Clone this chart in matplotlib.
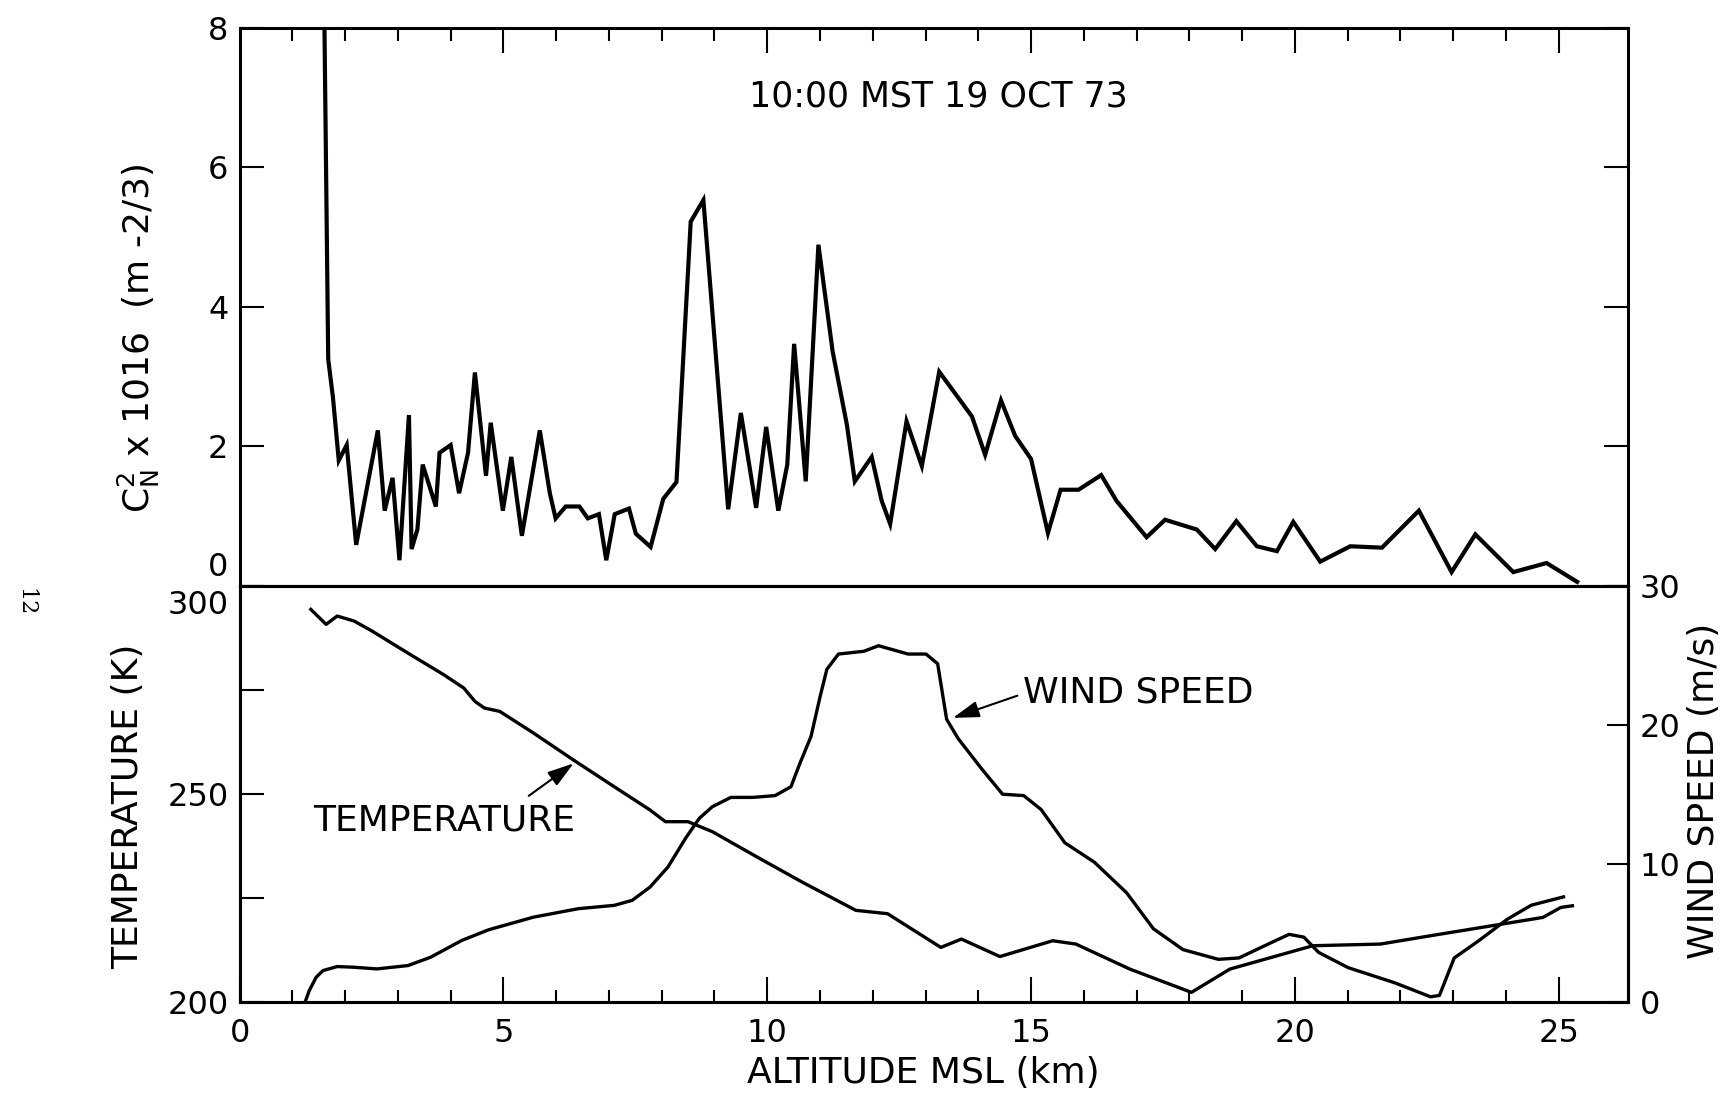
#Two-panel profile: Cn2 on top, temperature and wind speed below

import matplotlib as mpl
mpl.use('Agg')
import matplotlib.pyplot as plt

plt.rcParams['font.family'] = 'DejaVu Sans'

#Cn2 x 1e16 versus altitude (km)
alt_cn2 = [1.60, 1.68, 1.77, 1.88, 2.03, 2.21, 2.62, 2.75, 2.90, 3.03,
           3.21, 3.26, 3.37, 3.47, 3.72, 3.79, 4.00, 4.16, 4.33, 4.46,
           4.67, 4.76, 4.99, 5.15, 5.35, 5.69, 5.88, 5.99, 6.18, 6.44,
           6.60, 6.81, 6.95, 7.11, 7.38, 7.51, 7.79, 8.03, 8.28, 8.55,
           8.79, 9.26, 9.50, 9.79, 9.98, 10.21, 10.38, 10.51, 10.73, 10.97,
           11.24, 11.51, 11.66, 11.98, 12.17, 12.33, 12.64, 12.93, 13.26, 13.88,
           14.13, 14.43, 14.70, 15.00, 15.32, 15.56, 15.90, 16.33, 16.62, 17.19,
           17.54, 18.14, 18.49, 18.89, 19.28, 19.66, 19.97, 20.48, 21.05, 21.65,
           22.35, 22.97, 23.42, 24.14, 24.77, 25.35]
cn2 = [8.6, 3.25, 2.70, 1.80, 2.02, 0.59, 2.23, 1.08, 1.55, 0.37,
       2.45, 0.53, 0.81, 1.74, 1.14, 1.91, 2.02, 1.33, 1.91, 3.06,
       1.58, 2.34, 1.08, 1.85, 0.72, 2.23, 1.33, 0.97, 1.14, 1.14,
       0.97, 1.03, 0.37, 1.03, 1.11, 0.75, 0.56, 1.25, 1.49, 5.22,
       5.53, 1.10, 2.48, 1.12, 2.28, 1.08, 1.74, 3.47, 1.50, 4.89,
       3.36, 2.31, 1.50, 1.85, 1.22, 0.89, 2.36, 1.72, 3.07, 2.43,
       1.88, 2.66, 2.15, 1.82, 0.76, 1.38, 1.38, 1.59, 1.22, 0.70,
       0.95, 0.81, 0.53, 0.93, 0.57, 0.50, 0.92, 0.35, 0.57, 0.55,
       1.08, 0.20, 0.74, 0.20, 0.33, 0.06]

#Temperature (K) versus altitude (km)
alt_temp = [1.35, 1.64, 1.85, 2.17, 2.51, 3.19, 3.87, 4.25, 4.46, 4.64,
            4.93, 5.57, 6.33, 7.10, 7.78, 8.07, 8.50, 8.96, 9.81, 10.66,
            11.68, 12.28, 13.29, 13.68, 14.41, 15.41, 15.85, 16.87, 18.04, 18.77,
            20.34, 21.62, 22.57, 24.70, 25.04, 25.26]
temp = [294.4, 290.8, 292.8, 291.6, 289.2, 283.9, 278.7, 275.5, 272.3, 270.7,
        269.9, 264.7, 258.2, 251.8, 246.2, 243.4, 243.4, 241.0, 234.9, 228.9,
        222.1, 221.3, 213.2, 215.2, 211.0, 214.8, 214.0, 208.0, 202.4, 208.0,
        213.6, 214.0, 216.0, 220.4, 222.8, 223.2]

#Wind speed (m/s) versus altitude (km)
alt_wind = [1.24, 1.32, 1.45, 1.58, 1.85, 2.17, 2.60, 3.19, 3.62, 4.21,
            4.72, 5.57, 6.42, 7.10, 7.44, 7.78, 8.12, 8.45, 8.71, 8.96,
            9.31, 9.73, 10.15, 10.45, 10.62, 10.83, 11.00, 11.13, 11.35, 11.83,
            12.11, 12.39, 12.67, 13.01, 13.23, 13.40, 13.62, 14.07, 14.46, 14.86,
            15.19, 15.64, 16.20, 16.81, 17.32, 17.88, 18.55, 18.94, 19.55, 19.89,
            20.17, 20.45, 21.01, 21.90, 22.57, 22.74, 23.02, 23.47, 24.03, 24.48,
            25.09]
wind = [0.0, 0.84, 1.8, 2.29, 2.58, 2.53, 2.41, 2.65, 3.25, 4.46,
        5.23, 6.14, 6.75, 6.99, 7.35, 8.31, 9.76, 11.81, 13.25, 14.10,
        14.77, 14.77, 14.9, 15.54, 17.23, 19.16, 22.0, 24.0, 25.1, 25.3,
        25.7, 25.4, 25.1, 25.1, 24.4, 20.4, 19.0, 16.8, 15.0, 14.9,
        13.9, 11.5, 10.1, 7.9, 5.3, 3.8, 3.1, 3.2, 4.3, 4.9,
        4.7, 3.6, 2.5, 1.4, 0.4, 0.5, 3.2, 4.4, 6.0, 7.0,
        7.6]

major_x = [0, 5, 10, 15, 20, 25]
minor_x = [k for k in range(1, 26) if k % 5 != 0]

fig = plt.figure(figsize=(17.31, 11.01), dpi=100)
ax1 = fig.add_axes([0.1384, 0.4677, 0.8023, 0.5072])
ax2 = fig.add_axes([0.1384, 0.0896, 0.8023, 0.3781])
ax3 = ax2.twinx()

for ax in [ax1, ax2, ax3]:
    for sp in ax.spines.values():
        sp.set_linewidth(2.2)

#Top panel
ax1.plot(alt_cn2, cn2, color='k', linewidth=3.0, solid_joinstyle='miter')
ax1.set_xlim(0, 26.32)
ax1.set_ylim(0, 8)
ax1.set_xticks(major_x[1:])
ax1.set_xticks(minor_x, minor=True)
ax1.tick_params(axis='x', which='major', direction='in', length=18, width=1.5,
                top=True, bottom=False, labeltop=False, labelbottom=False)
ax1.tick_params(axis='x', which='minor', direction='in', length=9, width=1.5,
                top=True, bottom=False)
ax1.set_yticks([0, 2, 4, 6, 8])
ax1.set_yticklabels(['', '2', '4', '6', '8'])
ax1.tick_params(axis='y', direction='in', length=17, width=1.5, left=True, right=True,
                labelsize=23, pad=8)
ax1.annotate('0', xy=(0, 0), xycoords=('axes fraction', 'data'), xytext=(-8, 2),
             textcoords='offset points', ha='right', va='bottom', fontsize=23)
ax1.text(13.24, 7.01, '10:00 MST 19 OCT 73', ha='center', va='center', fontsize=25)
ax1.set_ylabel(r'$\mathregular{C_N^2}$ x 1016  (m -2/3)', fontsize=26)
ax1.yaxis.set_label_coords(-0.056, 0.443)

#Bottom panel: temperature
ax2.plot(alt_temp, temp, color='k', linewidth=2.4)
ax2.set_xlim(0, 26.32)
ax2.set_ylim(200, 300)
ax2.set_xticks(major_x)
ax2.set_xticklabels([str(v) for v in major_x])
ax2.set_xticks(minor_x, minor=True)
ax2.tick_params(axis='x', which='major', direction='in', length=18, width=1.5,
                top=False, labelsize=23, pad=11)
ax2.tick_params(axis='x', which='minor', direction='in', length=9, width=1.5, top=False)
ax2.set_yticks([200, 225, 250, 275, 300])
ax2.set_yticklabels(['200', '', '250', '', ''])
ax2.tick_params(axis='y', direction='in', length=17, width=1.5, labelsize=23, pad=8)
ax2.annotate('300', xy=(0, 300), xycoords=('axes fraction', 'data'), xytext=(-8, -3),
             textcoords='offset points', ha='right', va='top', fontsize=23)
ax2.set_ylabel('TEMPERATURE (K)', fontsize=26)
ax2.yaxis.set_label_coords(-0.068, 0.472)
ax2.set_xlabel('ALTITUDE MSL (km)', fontsize=26)
ax2.xaxis.set_label_coords(0.492, -0.13)

ax2.text(3.87, 243.8, 'TEMPERATURE', ha='center', va='center', fontsize=26)
ax2.annotate('', xy=(6.33, 257.4), xytext=(5.48, 249.6),
             arrowprops=dict(arrowstyle='-|>,head_length=0.8,head_width=0.25',
                             color='k', lw=1.5, mutation_scale=20, shrinkA=0, shrinkB=0))

#Bottom panel: wind speed
ax3.plot(alt_wind, wind, color='k', linewidth=2.4)
ax3.set_ylim(0, 30)
ax3.set_yticks([0, 10, 20, 30])
ax3.tick_params(axis='y', direction='in', length=15, width=1.5, labelsize=23, pad=8)
ax3.set_ylabel('WIND SPEED (m/s)', fontsize=26)
ax3.yaxis.set_label_coords(1.042, 0.507)

ax3.text(14.85, 22.3, 'WIND SPEED', ha='left', va='center', fontsize=26)
ax3.annotate('', xy=(13.52, 20.5), xytext=(14.74, 22.1),
             arrowprops=dict(arrowstyle='-|>,head_length=0.8,head_width=0.25',
                             color='k', lw=1.5, mutation_scale=20, shrinkA=0, shrinkB=0))

#Page number
fig.text(0.0145, 0.453, '12', rotation=-90, family='DejaVu Serif', fontsize=16,
         ha='center', va='center')

plt.savefig('out.png', dpi=100)
plt.close()
